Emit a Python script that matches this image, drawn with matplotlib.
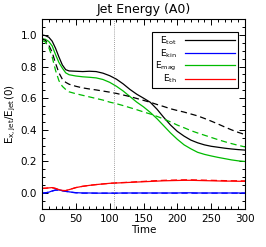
import numpy as np
import matplotlib
matplotlib.use("Agg")
import matplotlib.pyplot as plt
from matplotlib.ticker import MultipleLocator

# time grid and energy fractions
time = [0, 5, 10, 15, 20, 25, 30, 35, 40, 50, 60, 70, 80, 90, 100, 110, 120,
        130, 140, 150, 160, 170, 180, 190, 200, 210, 220, 230, 240, 250, 260,
        270, 280, 290, 300]

e_tot = [1.0, 0.995, 0.985, 0.96, 0.915, 0.86, 0.81, 0.78, 0.772, 0.77, 0.768,
         0.77, 0.768, 0.758, 0.742, 0.72, 0.69, 0.655, 0.625, 0.60, 0.574, 0.53,
         0.478, 0.43, 0.39, 0.36, 0.335, 0.318, 0.305, 0.296, 0.29, 0.284, 0.279,
         0.275, 0.272]
e_tot_b = [0.975, 0.965, 0.935, 0.89, 0.82, 0.76, 0.72, 0.70, 0.688, 0.675, 0.665,
           0.658, 0.652, 0.645, 0.638, 0.63, 0.62, 0.61, 0.598, 0.586, 0.574, 0.56,
           0.547, 0.533, 0.522, 0.512, 0.50, 0.488, 0.472, 0.455, 0.437, 0.418,
           0.40, 0.384, 0.37]

e_mag = [0.975, 0.972, 0.958, 0.93, 0.875, 0.825, 0.79, 0.76, 0.748, 0.74, 0.735,
         0.732, 0.728, 0.718, 0.70, 0.675, 0.645, 0.61, 0.575, 0.545, 0.51, 0.47,
         0.425, 0.38, 0.34, 0.305, 0.28, 0.258, 0.245, 0.235, 0.226, 0.218, 0.21,
         0.204, 0.2]
e_mag_b = [0.965, 0.955, 0.92, 0.86, 0.775, 0.71, 0.675, 0.655, 0.64, 0.628, 0.618,
           0.608, 0.598, 0.588, 0.575, 0.565, 0.553, 0.54, 0.527, 0.513, 0.50,
           0.485, 0.468, 0.45, 0.43, 0.413, 0.395, 0.38, 0.366, 0.352, 0.338,
           0.325, 0.313, 0.302, 0.292]

e_th = [0.03, 0.031, 0.033, 0.035, 0.03, 0.022, 0.017, 0.016, 0.022, 0.035, 0.043,
        0.049, 0.054, 0.058, 0.062, 0.064, 0.066, 0.068, 0.07, 0.072, 0.074, 0.076,
        0.078, 0.079, 0.08, 0.081, 0.081, 0.08, 0.079, 0.078, 0.077, 0.076, 0.076,
        0.075, 0.075]
e_th_b = [0.03, 0.031, 0.033, 0.034, 0.029, 0.021, 0.016, 0.016, 0.022, 0.035, 0.043,
          0.049, 0.054, 0.058, 0.062, 0.065, 0.067, 0.069, 0.072, 0.074, 0.077, 0.079,
          0.081, 0.082, 0.083, 0.084, 0.084, 0.083, 0.082, 0.081, 0.080, 0.079,
          0.078, 0.078, 0.077]

e_kin = [0.0, 0.002, 0.006, 0.014, 0.02, 0.02, 0.016, 0.012, 0.008, 0.003, 0.001,
         0.001, 0.0, 0.0, 0.0, 0.0, 0.001, 0.001, 0.001, 0.001, 0.001, 0.001, 0.001,
         0.001, 0.001, 0.002, 0.002, 0.001, 0.001, 0.001, 0.001, 0.001, 0.001,
         0.001, 0.001]
e_kin_b = [0.0, 0.002, 0.006, 0.013, 0.019, 0.019, 0.015, 0.011, 0.007, 0.002, 0.0,
           0.0, 0.0, 0.0, 0.0, 0.0, 0.0, 0.0, 0.0, 0.0, 0.0, 0.0, 0.0, 0.0, 0.0,
           0.0, 0.0, 0.0, 0.0, 0.0, 0.0, 0.0, 0.0, 0.0, 0.0]

t_mark = 106

plt.rcParams['font.family'] = ['DejaVu Sans']
fig = plt.figure(figsize=(2.66, 2.47), dpi=100)
ax = fig.add_axes([0.158, 0.154, 0.763, 0.769])

green = '#00bb00'
lw = 0.9
dash = (0, (5, 3))

ax.plot(time, e_tot, color='black', lw=lw, label=r'E$_{\rm tot}$')
ax.plot(time, e_kin, color='blue', lw=lw, label=r'E$_{\rm kin}$')
ax.plot(time, e_mag, color=green, lw=lw, label=r'E$_{\rm mag}$')
ax.plot(time, e_th, color='red', lw=lw, label=r'E$_{\rm th}$')

ax.plot(time, e_tot_b, color='black', lw=lw, ls=dash)
ax.plot(time, e_kin_b, color='blue', lw=lw, ls=dash)
ax.plot(time, e_mag_b, color=green, lw=lw, ls=dash)
ax.plot(time, e_th_b, color='red', lw=lw, ls=dash)

ax.axvline(t_mark, color='gray', lw=0.6, ls=(0, (1, 1.5)))

ax.set_xlim(0, 300)
ax.set_ylim(-0.1, 1.1)
ax.xaxis.set_major_locator(MultipleLocator(50))
ax.xaxis.set_minor_locator(MultipleLocator(10))
ax.yaxis.set_major_locator(MultipleLocator(0.2))
ax.yaxis.set_minor_locator(MultipleLocator(0.05))
ax.tick_params(which='both', direction='in', top=True, right=True, labelsize=7.5, width=0.7)
ax.tick_params(which='major', length=4)
ax.tick_params(which='minor', length=2)
ax.yaxis.set_major_formatter(matplotlib.ticker.FormatStrFormatter('%.1f'))
for s in ax.spines.values():
    s.set_linewidth(0.8)

ax.set_title('Jet Energy (A0)', fontsize=9, pad=4)
ax.set_xlabel('Time', fontsize=7.5, labelpad=1)
ax.set_ylabel(r'E$_{\rm x,jet}$/E$_{\rm jet}$(0)', fontsize=7.5, labelpad=2)

leg = ax.legend(loc='upper right', bbox_to_anchor=(0.966, 0.932), fontsize=6.6,
                markerfirst=False, handlelength=5.5, handletextpad=0.9,
                labelspacing=0.0, borderpad=0.3, borderaxespad=0,
                fancybox=False, edgecolor='black', framealpha=1)
leg.get_frame().set_linewidth(0.8)

fig.savefig('out.png', dpi=100)
